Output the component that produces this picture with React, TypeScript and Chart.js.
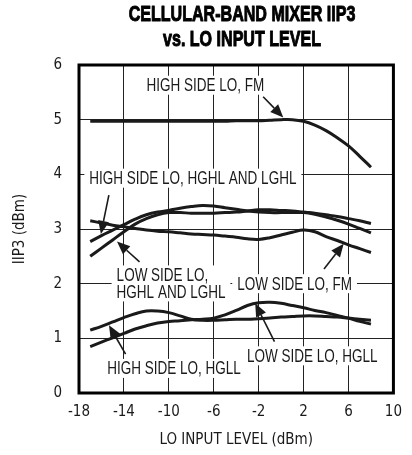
import React, { useEffect, useRef } from "react";
import { Chart, registerables } from "chart.js";

Chart.register(...registerables);

// ---- data ----
const xLevels = [-17, -16, -15, -14, -13, -12, -11, -10, -9, -8, -7, -6, -5, -4, -3, -2, -1, 0, 1, 2, 3, 4, 5, 6, 7, 8];

const highSideFM = [4.97, 4.97, 4.97, 4.97, 4.97, 4.97, 4.97, 4.97, 4.97, 4.97, 4.97, 4.97, 4.97, 4.98, 4.98, 4.98, 4.99, 5.0, 5.0, 4.97, 4.9, 4.8, 4.67, 4.52, 4.33, 4.13];
const highSideHGHL = [2.77, 2.88, 2.98, 3.08, 3.18, 3.26, 3.31, 3.34, 3.38, 3.41, 3.43, 3.42, 3.39, 3.36, 3.33, 3.31, 3.3, 3.3, 3.3, 3.3, 3.27, 3.22, 3.16, 3.09, 3.01, 2.93];
const lowSideHGHL = [2.5, 2.65, 2.8, 2.95, 3.09, 3.19, 3.26, 3.3, 3.3, 3.29, 3.29, 3.29, 3.3, 3.31, 3.33, 3.35, 3.35, 3.34, 3.33, 3.31, 3.29, 3.26, 3.23, 3.19, 3.15, 3.1];
const lowSideFM = [3.15, 3.11, 3.07, 3.04, 3.01, 2.98, 2.96, 2.95, 2.93, 2.91, 2.9, 2.89, 2.87, 2.85, 2.82, 2.81, 2.84, 2.89, 2.94, 2.98, 2.95, 2.86, 2.79, 2.71, 2.64, 2.57];
const highSideHGLL = [1.15, 1.22, 1.3, 1.38, 1.45, 1.5, 1.5, 1.47, 1.41, 1.35, 1.33, 1.33, 1.34, 1.35, 1.35, 1.36, 1.37, 1.39, 1.4, 1.41, 1.41, 1.4, 1.39, 1.37, 1.35, 1.33];
const lowSideHGLL = [0.85, 0.93, 1.01, 1.09, 1.17, 1.23, 1.28, 1.31, 1.32, 1.34, 1.35, 1.37, 1.43, 1.51, 1.6, 1.65, 1.66, 1.64, 1.6, 1.56, 1.51, 1.47, 1.42, 1.37, 1.31, 1.26];

const seriesList = [highSideFM, highSideHGHL, lowSideHGHL, lowSideFM, highSideHGLL, lowSideHGLL];

const xTickValues = [-18, -14, -10, -6, -2, 2, 6, 10];
const yTickValues = [0, 1, 2, 3, 4, 5, 6];

const titleLines = ["CELLULAR-BAND MIXER IIP3", "vs. LO INPUT LEVEL"];
const xTitle = "LO INPUT LEVEL (dBm)";
const yTitle = "IIP3 (dBm)";

// annotation labels (data coordinates of text anchor)
const labels = [
  { lines: ["HIGH SIDE LO, FM"], x: -6.75, y: 5.63, align: "center" },
  { lines: ["HIGH SIDE LO, HGHL AND LGHL"], x: -7.86, y: 3.93, align: "center" },
  { lines: ["LOW SIDE LO,", "HGHL AND LGHL"], x: -14.65, y: 2.16, align: "left" },
  { lines: ["LOW SIDE LO, FM"], x: 1.2, y: 2.0, align: "center" },
  { lines: ["HIGH SIDE LO, HGLL"], x: -9.54, y: 0.45, align: "center" },
  { lines: ["LOW SIDE LO, HGLL"], x: 2.78, y: 0.68, align: "center" },
];

const arrows = [
  { from: [-1.6, 5.42], to: [0.19, 5.04] },
  { from: [-15.34, 3.62], to: [-16.05, 2.91] },
  { from: [-12.61, 2.4], to: [-14.62, 2.77] },
  { from: [3.82, 2.27], to: [5.57, 2.73] },
  { from: [-13.85, 0.71], to: [-15.33, 1.24] },
  { from: [-0.59, 0.94], to: [-2.31, 1.64] },
];

const FONT = "'DejaVu Sans Condensed', 'DejaVu Sans', sans-serif";
const LFONT = "'Liberation Sans', Arial, sans-serif";
const INK = "#1a1a1a";
const LABEL_SX = 0.75;
const TITLE_SX = 0.73;

function condensedText(ctx: any, t: string, x: number, y: number, sx: number, stroke = 0) {
  ctx.save();
  ctx.translate(x, y);
  ctx.scale(sx, 1);
  ctx.fillText(t, 0, 0);
  if (stroke > 0) {
    ctx.lineWidth = stroke;
    ctx.strokeStyle = ctx.fillStyle;
    ctx.lineJoin = "round";
    ctx.strokeText(t, 0, 0);
  }
  ctx.restore();
}

const annotationPlugin = {
  id: "annotations",
  beforeDatasetsDraw(chart: any) {
    const ctx = chart.ctx;
    const xs = chart.scales.x;
    const ys = chart.scales.y;
    ctx.save();
    ctx.font = `18px ${LFONT}`;
    ctx.textBaseline = "middle";
    const lh = 17;
    for (const l of labels) {
      const px = xs.getPixelForValue(l.x);
      const py = ys.getPixelForValue(l.y);
      const widths = l.lines.map((t: string) => ctx.measureText(t).width * LABEL_SX);
      const w = Math.max(...widths);
      const h = l.lines.length * lh;
      const left = l.align === "left" ? px : px - w / 2;
      ctx.fillStyle = "#fff";
      ctx.fillRect(left - 5, py - lh / 2 - 1, w + 10, h + 2);
      ctx.fillStyle = INK;
      ctx.textAlign = l.align === "left" ? "left" : "center";
      l.lines.forEach((t: string, i: number) => {
        condensedText(ctx, t, px, py + i * lh + 1, LABEL_SX);
      });
    }
    ctx.restore();
  },
  afterDatasetsDraw(chart: any) {
    const ctx = chart.ctx;
    const xs = chart.scales.x;
    const ys = chart.scales.y;
    ctx.save();
    ctx.strokeStyle = INK;
    ctx.fillStyle = INK;
    ctx.lineWidth = 1.6;
    for (const a of arrows) {
      const x1 = xs.getPixelForValue(a.from[0]);
      const y1 = ys.getPixelForValue(a.from[1]);
      const x2 = xs.getPixelForValue(a.to[0]);
      const y2 = ys.getPixelForValue(a.to[1]);
      const ang = Math.atan2(y2 - y1, x2 - x1);
      const hl = 13;
      const hw = 5.5;
      const bx = x2 - hl * Math.cos(ang);
      const by = y2 - hl * Math.sin(ang);
      ctx.beginPath();
      ctx.moveTo(x1, y1);
      ctx.lineTo(bx, by);
      ctx.stroke();
      ctx.beginPath();
      ctx.moveTo(x2, y2);
      ctx.lineTo(bx + hw * Math.sin(ang), by - hw * Math.cos(ang));
      ctx.lineTo(bx - hw * Math.sin(ang), by + hw * Math.cos(ang));
      ctx.closePath();
      ctx.fill();
    }
    // plot border
    const a = chart.chartArea;
    ctx.lineWidth = 3;
    ctx.strokeStyle = "#000";
    ctx.strokeRect(a.left, a.top, a.right - a.left, a.bottom - a.top);
    ctx.restore();
  },
  afterDraw(chart: any) {
    const ctx = chart.ctx;
    ctx.save();
    ctx.fillStyle = "#000";
    ctx.textAlign = "center";
    ctx.textBaseline = "middle";
    ctx.font = `bold 22px ${LFONT}`;
    condensedText(ctx, titleLines[0], 242, 15, TITLE_SX, 1);
    condensedText(ctx, titleLines[1], 242, 40, TITLE_SX, 1);
    ctx.restore();
  },
};

export default function App() {
  const ref = useRef<HTMLCanvasElement | null>(null);
  useEffect(() => {
    if (!ref.current) return;
    const chart = new Chart(ref.current, {
      type: "line",
      data: {
        datasets: seriesList.map((s) => ({
          data: xLevels.map((x, i) => ({ x, y: s[i] })),
          borderColor: INK,
          borderWidth: 3,
          pointRadius: 0,
          tension: 0.4,
          fill: false,
        })),
      },
      options: {
        animation: false,
        responsive: false,
        layout: { padding: { top: 65, right: 7, left: 0, bottom: 0 } },
        plugins: { legend: { display: false }, tooltip: { enabled: false }, title: { display: false } },
        scales: {
          x: {
            type: "linear",
            min: -18,
            max: 10,
            afterBuildTicks: (s: any) => {
              s.ticks = xTickValues.map((v) => ({ value: v }));
            },
            afterFit: (s: any) => {
              s.height = 62;
            },
            grid: { color: "#222", lineWidth: 1, drawTicks: false },
            border: { display: false },
            ticks: { color: INK, font: { family: FONT, size: 15 }, padding: 10 },
            title: { display: true, text: xTitle, color: INK, font: { family: FONT, size: 15 }, padding: { top: 0, bottom: 6 } },
          },
          y: {
            type: "linear",
            min: 0,
            max: 6,
            afterBuildTicks: (s: any) => {
              s.ticks = yTickValues.map((v) => ({ value: v }));
            },
            afterFit: (s: any) => {
              s.width = 79;
            },
            grid: { color: "#222", lineWidth: 1, drawTicks: false },
            border: { display: false },
            ticks: { color: INK, font: { family: FONT, size: 15 }, padding: 17 },
            title: { display: true, text: yTitle, color: INK, font: { family: FONT, size: 15 }, padding: { top: 11, bottom: 0 } },
          },
        },
      },
      plugins: [annotationPlugin],
    } as any);
    return () => chart.destroy();
  }, []);
  return (
    <div style={{ position: "fixed", left: 0, top: 0, width: 412, height: 455, background: "#fff" }}>
      <canvas ref={ref} width={412} height={455} style={{ display: "block", width: 412, height: 455 }} />
    </div>
  );
}
